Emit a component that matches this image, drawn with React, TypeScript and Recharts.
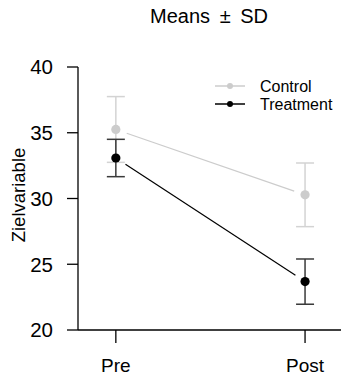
import { ScatterChart, Scatter, XAxis, YAxis, ErrorBar, Legend } from 'recharts';

const FONT = '"Liberation Sans", Arial, Helvetica, sans-serif';

const TIME_LABELS = ['Pre', 'Post'];
const TIME_POS = [1, 2];
const CONTROL_MEAN = [35.25, 30.28];
const CONTROL_SD = [2.5, 2.42];
const TREATMENT_MEAN = [33.08, 23.68];
const TREATMENT_SD = [1.42, 1.72];
const Y_TICKS = [20, 25, 30, 35, 40];

const CONTROL_COLOR = '#cccccc';
const CONTROL_ERR = '#d3d3d3';
const TREATMENT_COLOR = '#000000';
const TREATMENT_ERR = '#3a3a3a';

// gap (px) left between a point and its connecting line, like R's type = "b"
const GAP = 11.5;

const LEGEND_ITEMS = [
  { name: 'Control', color: CONTROL_COLOR },
  { name: 'Treatment', color: TREATMENT_COLOR },
];

function toRows(means: number[], sds: number[]) {
  return TIME_POS.map((x, i) => ({ x, y: means[i], sd: sds[i] }));
}

const controlData = toRows(CONTROL_MEAN, CONTROL_SD);
const treatmentData = toRows(TREATMENT_MEAN, TREATMENT_SD);

function gappedLine(color: string) {
  return (props: any) => {
    const pts: { x: number; y: number }[] = props.points ?? [];
    const segs = [];
    for (let i = 0; i < pts.length - 1; i++) {
      const a = pts[i];
      const b = pts[i + 1];
      const dx = b.x - a.x;
      const dy = b.y - a.y;
      const len = Math.hypot(dx, dy) || 1;
      const ux = dx / len;
      const uy = dy / len;
      segs.push(
        <line
          key={i}
          x1={a.x + ux * GAP}
          y1={a.y + uy * GAP}
          x2={b.x - ux * GAP}
          y2={b.y - uy * GAP}
          stroke={color}
          strokeWidth={1.2}
        />
      );
    }
    return <g>{segs}</g>;
  };
}

function dot(color: string) {
  return (p: any) => <circle cx={p.cx} cy={p.cy} r={4.6} fill={color} />;
}

function renderLegend() {
  return (
    <svg width={130} height={40} style={{ display: 'block' }}>
      {LEGEND_ITEMS.map((it, i) => (
        <g key={it.name}>
          <line x1={3} x2={33} y1={10 + i * 18} y2={10 + i * 18} stroke={it.color} strokeWidth={1.5} />
          <circle cx={18} cy={10 + i * 18} r={3} fill={it.color} />
          <text x={48} y={10 + i * 18} dy="0.36em" fontSize={16} fontFamily={FONT} fill="#000">
            {it.name}
          </text>
        </g>
      ))}
    </svg>
  );
}

export default function App() {
  return (
    <div style={{ position: 'relative', width: 341, height: 377, fontFamily: FONT }}>
      <style>{'body{margin:0}'}</style>
      <div
        style={{
          position: 'absolute', left: 0, width: 418, top: 6, textAlign: 'center',
          fontSize: 20, lineHeight: '20px', wordSpacing: 4, color: '#000',
        }}
      >
        Means ± SD
      </div>
      <ScatterChart width={341} height={377} margin={{ top: 67, right: 0, bottom: 0, left: 0 }}>
        <XAxis
          type="number"
          dataKey="x"
          domain={[0.8, 2.19]}
          ticks={TIME_POS}
          allowDataOverflow
          tickFormatter={(v: number) => TIME_LABELS[v - 1] ?? ''}
          height={47}
          tickSize={13}
          tickMargin={16}
          axisLine={{ stroke: '#000', strokeWidth: 1.3 }}
          tickLine={{ stroke: '#000', strokeWidth: 1.3 }}
          tick={{ fill: '#000', fontSize: 19, fontFamily: FONT }}
        />
        <YAxis
          type="number"
          dataKey="y"
          domain={[20, 40]}
          ticks={Y_TICKS}
          width={78}
          tickSize={11}
          tickMargin={14}
          axisLine={{ stroke: '#000', strokeWidth: 1.3 }}
          tickLine={{ stroke: '#000', strokeWidth: 1.3 }}
          tick={{ fill: '#000', fontSize: 20.5, fontFamily: FONT }}
          label={{
            content: () => (
              <text
                x={18}
                y={195}
                transform="rotate(-90 18 195)"
                textAnchor="middle"
                dominantBaseline="central"
                fontSize={18.5}
                fontFamily={FONT}
                fill="#000"
              >
                Zielvariable
              </text>
            ),
          }}
        />
        <Legend
          layout="vertical"
          align="center"
          verticalAlign="middle"
          content={renderLegend}
          wrapperStyle={{ left: 212, top: 76, width: 130 }}
        />
        <Scatter
          name="Control"
          data={controlData}
          fill={CONTROL_COLOR}
          shape={dot(CONTROL_COLOR)}
          line={gappedLine(CONTROL_COLOR)}
          isAnimationActive={false}
        >
          <ErrorBar dataKey="sd" direction="y" width={9} stroke={CONTROL_ERR} strokeWidth={1.5} />
        </Scatter>
        <Scatter
          name="Treatment"
          data={treatmentData}
          fill={TREATMENT_COLOR}
          shape={dot(TREATMENT_COLOR)}
          line={gappedLine(TREATMENT_COLOR)}
          isAnimationActive={false}
        >
          <ErrorBar dataKey="sd" direction="y" width={9} stroke={TREATMENT_ERR} strokeWidth={1.5} />
        </Scatter>
      </ScatterChart>
    </div>
  );
}
